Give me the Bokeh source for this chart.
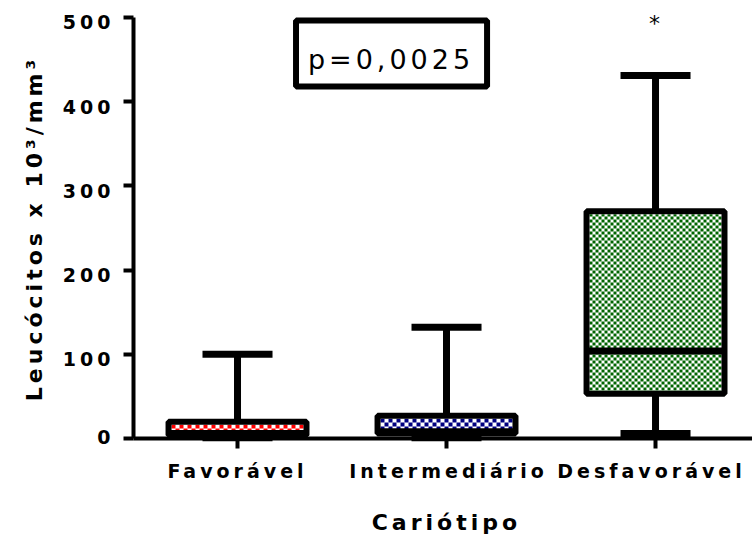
import math

from bokeh.plotting import figure
from bokeh.models import Range1d, FixedTicker, ColumnDataSource, Label
from bokeh.embed import file_html
from bokeh.resources import INLINE

# Leukocyte counts (x10^3/mm^3) by karyotype risk group
categories = ["Favorável", "Intermediário", "Desfavorável"]
positions = [1, 2, 3]
whisker_low = [1, 1, 6]
q1 = [4, 6, 53]
median = [6, 8, 104]
q3 = [20, 27, 270]
whisker_high = [100, 132, 431]
box_colors = ["#ff0000", "#000080", "#006400"]
checker_px = [4, 4, 3]
y_ticks = [0, 100, 200, 300, 400, 500]
y_tick_labels = ["0", "100", "200", "300", "400", "500"]
x_title = "Cariótipo"
y_title = "Leucócitos x 10³/mm³"
p_value_text = "p=0,0025"
star_text = "*"
star_y = 493

W, H = 752, 542
FONT = "DejaVu Sans"
SPACING = 4              # letter spacing applied to every text, px
BOX_HALF = 0.33
CAP_HALF = 0.1675

# the plotting area fills the canvas; axes sit at fixed data positions
X_START, X_END = -0.1340, 3.464
Y_START, Y_END = -123.52, 520.19
XPX = W / (X_END - X_START)
YPX = H / (Y_END - Y_START)
X0 = X_START + 133 / XPX          # where the y axis stands


def sx(x):
    return (x - X_START) * XPX


def sy(y):
    return (Y_END - y) * YPX


def dx(px):
    return X_START + px / XPX


def dy(py):
    return Y_END - py / YPX


def spread(text):
    """Extra visible width that the letter spacing adds to a text."""
    return (len(text) - 1) * SPACING


src = ColumnDataSource(dict(
    x=positions,
    lo=whisker_low,
    q1=q1,
    med=median,
    q3=q3,
    hi=whisker_high,
    left=[v - BOX_HALF for v in positions],
    right=[v + BOX_HALF for v in positions],
    cap_l=[v - CAP_HALF for v in positions],
    cap_r=[v + CAP_HALF for v in positions],
))

p = figure(width=W, height=H, output_backend="svg", toolbar_location=None,
           x_range=Range1d(X_START, X_END), y_range=Range1d(Y_START, Y_END),
           min_border=0)
p.styles = {"letter-spacing": f"{SPACING}px"}
p.outline_line_color = None
p.xgrid.visible = False
p.ygrid.visible = False
p.background_fill_color = "white"
p.border_fill_color = "white"

# whiskers and caps
p.segment(x0="x", x1="x", y0="lo", y1="hi", source=src, line_color="black", line_width=7)
p.segment(x0="cap_l", x1="cap_r", y0="hi", y1="hi", source=src, line_color="black", line_width=7)
p.segment(x0="cap_l", x1="cap_r", y0="lo", y1="lo", source=src, line_color="black", line_width=7)

# box background
p.quad(left="left", right="right", bottom="q1", top="q3", source=src,
       fill_color="white", line_color=None)

# checkerboard texture inside each box, on the pixel grid
chk = dict(left=[], right=[], top=[], bottom=[], color=[])
for pos, lo_q, hi_q, col, s in zip(positions, q1, q3, box_colors, checker_px):
    L, R = sx(pos - BOX_HALF) + 3, sx(pos + BOX_HALF) - 3
    T, B = sy(hi_q) + 3, sy(lo_q) - 3
    ix = 0
    xp = math.floor(L)
    while xp < R:
        x0, x1 = max(xp, L), min(xp + s, R)
        iy = 0
        yp = math.floor(T)
        while yp < B:
            y0, y1 = max(yp, T), min(yp + s, B)
            if (ix + iy) % 2 == 0:
                chk["left"].append(dx(x0))
                chk["right"].append(dx(x1))
                chk["top"].append(dy(y0))
                chk["bottom"].append(dy(y1))
                chk["color"].append(col)
            yp += s
            iy += 1
        xp += s
        ix += 1
p.quad(left="left", right="right", top="top", bottom="bottom", color="color",
       source=ColumnDataSource(chk), line_color=None)

# box outline and median
p.quad(left="left", right="right", bottom="q1", top="q3", source=src,
       fill_color=None, line_color="black", line_width=6)
p.segment(x0="left", x1="right", y0="med", y1="med", source=src, line_color="black", line_width=7)

# p-value box
p.quad(left=[1.280], right=[2.194], bottom=[418.0], top=[496.5],
       fill_color="white", line_color="black", line_width=6)
p.add_layout(Label(x=1.725, y=450, x_offset=-spread(p_value_text) / 2, text=p_value_text,
                   text_font=FONT, text_font_size="27px", text_align="center",
                   text_baseline="middle", text_color="black"))

p.add_layout(Label(x=3, y=star_y, x_offset=-1, text=star_text, text_font=FONT,
                   text_font_size="22px", text_align="center",
                   text_baseline="middle", text_color="black"))

# axes: lines and ticks at fixed positions, labels placed separately
for ax in (p.xaxis[0], p.yaxis[0]):
    ax.axis_line_width = 4
    ax.axis_line_color = "black"
    ax.major_tick_line_width = 4
    ax.major_tick_line_color = "black"
    ax.major_tick_in = 0
    ax.major_tick_out = 10
    ax.minor_tick_line_color = None
    ax.major_label_text_font_size = "0px"

p.xaxis.ticker = FixedTicker(ticks=positions)
p.xaxis.major_label_overrides = {v: "" for v in positions}
p.xaxis.fixed_location = 0
p.xaxis.bounds = (X0, X_END)

p.yaxis.ticker = FixedTicker(ticks=y_ticks)
p.yaxis.major_label_overrides = {v: "" for v in y_ticks}
p.yaxis.fixed_location = X0
p.yaxis.bounds = (0, 500)

bold = dict(text_font=FONT, text_font_style="bold", text_color="black")

# category labels; the last one is nudged in from the right edge
nudges = [-2, 0, -6]
for pos, name, nudge in zip(positions, categories, nudges):
    p.add_layout(Label(x=pos, y=0, x_offset=-spread(name) / 2 + nudge, y_offset=-33,
                       text=name, text_font_size="19px", text_align="center",
                       text_baseline="alphabetic", **bold))

for v, txt in zip(y_ticks, y_tick_labels):
    p.add_layout(Label(x=X0, y=v, x_offset=-23 - spread(txt),
                       y_offset=-5 if v > 0 else 1,
                       text=txt, text_font_size="19px", text_align="right",
                       text_baseline="middle", **bold))

p.add_layout(Label(x=1.990, y=0, x_offset=-spread(x_title) / 2, y_offset=-84,
                   text=x_title, text_font_size="22px", text_align="center",
                   text_baseline="alphabetic", **bold))

p.add_layout(Label(x=X0, y=247, x_offset=-99, y_offset=-spread(y_title) / 2,
                   angle=math.pi / 2, text=y_title, text_font_size="22px",
                   text_align="center", text_baseline="alphabetic", **bold))

open("out.html", "w").write(file_html(p, INLINE))
